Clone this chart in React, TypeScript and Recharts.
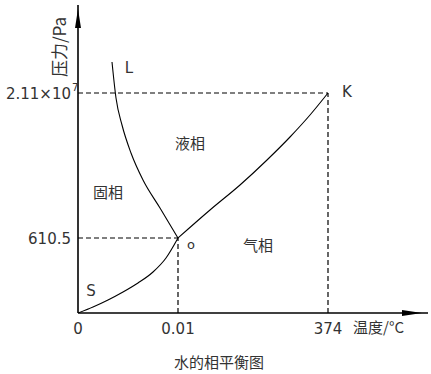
import React from 'react';
import { LineChart, Line, XAxis, YAxis, ReferenceLine, ReferenceDot, Label } from 'recharts';

// Schematic diagram units (not to scale, as in the original figure)
const xDomain = [0, 350];
const yDomain = [0, 308];

const xTickValues = [0, 100, 250];
const xTickLabels = ['0', '0.01', '374'];
const yTickValues = [75, 220];
const yTickLabels = ['610.5', '2.11×10'];
const yTickExponents = ['', '7'];

// OL : solid–liquid (fusion) curve, from L down to O
const fusionCurve = [
  { x: 34, y: 251 },
  { x: 38, y: 215 },
  { x: 44, y: 188 },
  { x: 53, y: 160 },
  { x: 65, y: 133 },
  { x: 82, y: 105 },
  { x: 100, y: 75 },
];
// OK : liquid–vapour curve, O to critical point K
const vaporCurve = [
  { x: 100, y: 75 },
  { x: 132, y: 103 },
  { x: 162, y: 128 },
  { x: 189, y: 153 },
  { x: 212, y: 176 },
  { x: 232, y: 198 },
  { x: 250, y: 220 },
];
// OS : sublimation curve, S to O
const sublimationCurve = [
  { x: 0, y: 0 },
  { x: 15, y: 6 },
  { x: 30, y: 13 },
  { x: 45, y: 21 },
  { x: 60, y: 30 },
  { x: 75, y: 41 },
  { x: 88, y: 55 },
  { x: 100, y: 75 },
];

const triplePoint = { x: 100, y: 75 };
const criticalPoint = { x: 250, y: 220 };

const pointNames = ['L', 'K', 'o', 'S'];
const pointNameAnchors = [
  { x: 51, y: 245 },
  { x: 269, y: 221 },
  { x: 113, y: 69 },
  { x: 13, y: 22 },
];
const phaseNames = ['液相', '固相', '气相'];
const phaseAnchors = [
  { x: 112, y: 171 },
  { x: 30, y: 122 },
  { x: 180, y: 69 },
];

const textColor = '#333';
const latinFont = '"DejaVu Sans", sans-serif';
const cjkFont = '"Noto Sans CJK SC", sans-serif';

const XTick = (props: any) => {
  const { x, payload } = props;
  const i = xTickValues.indexOf(payload.value);
  return (
    <text x={x} y={334} textAnchor="middle" fontSize={15} fontFamily={latinFont} fill={textColor}>
      {xTickLabels[i]}
    </text>
  );
};

const YTick = (props: any) => {
  const { y, payload } = props;
  const i = yTickValues.indexOf(payload.value);
  return (
    <g>
      <text x={71} y={y + 6} textAnchor="end" fontSize={15} fontFamily={latinFont} fill={textColor}>
        {yTickLabels[i]}
      </text>
      {yTickExponents[i] ? (
        <text x={72} y={y - 2} fontSize={10} fontFamily={latinFont} fill={textColor}>
          {yTickExponents[i]}
        </text>
      ) : null}
    </g>
  );
};

const XArrow = (props: any) => {
  const { cx, cy } = props;
  return <polygon points={`${cx - 26},${cy - 3} ${cx - 6},${cy} ${cx - 26},${cy + 3}`} fill="#000" />;
};
const YArrow = (props: any) => {
  const { cx, cy } = props;
  return <polygon points={`${cx - 3},${cy + 23} ${cx},${cy + 4} ${cx + 3},${cy + 23}`} fill="#000" />;
};

const TextMark = (text: string, fontSize: number, family: string) => (props: any) => {
  const { cx, cy } = props;
  return (
    <text x={cx} y={cy} textAnchor="middle" dominantBaseline="central" fontSize={fontSize} fontFamily={family} fill={textColor}>
      {text}
    </text>
  );
};

const dash = '5 3';

export default function App() {
  return (
    <div style={{ position: 'absolute', left: 0, top: 0, background: '#fff' }}>
      <LineChart width={431} height={374} margin={{ top: 5, right: 3, left: 0, bottom: 0 }}>
        <XAxis
          type="number"
          dataKey="x"
          domain={xDomain}
          ticks={xTickValues}
          tick={<XTick />}
          tickLine={false}
          axisLine={{ stroke: '#000', strokeWidth: 1.6 }}
          height={61}
          allowDataOverflow
        >
          <Label
            content={() => (
              <g>
                <text x={353} y={333} fontSize={15} fontFamily={cjkFont} fill={textColor}>
                  温度/°C
                </text>
                <text x={219} y={368} textAnchor="middle" fontSize={15} fontFamily={cjkFont} fill={textColor}>
                  水的相平衡图
                </text>
              </g>
            )}
          />
        </XAxis>
        <YAxis
          type="number"
          dataKey="y"
          domain={yDomain}
          ticks={yTickValues}
          tick={<YTick />}
          tickLine={false}
          axisLine={{ stroke: '#000', strokeWidth: 1.6 }}
          width={78}
          allowDataOverflow
        >
          <Label
            content={() => (
              <text
                x={58}
                y={47}
                transform="rotate(-90, 58, 47)"
                textAnchor="middle"
                dominantBaseline="central"
                fontSize={17}
                fontFamily={cjkFont}
                fill={textColor}
              >
                压力/Pa
              </text>
            )}
          />
        </YAxis>

        <ReferenceLine segment={[{ x: 0, y: triplePoint.y }, triplePoint]} stroke="#000" strokeWidth={1.2} strokeDasharray={dash} ifOverflow="visible" />
        <ReferenceLine segment={[{ x: triplePoint.x, y: 0 }, triplePoint]} stroke="#000" strokeWidth={1.2} strokeDasharray={dash} ifOverflow="visible" />
        <ReferenceLine segment={[{ x: 0, y: criticalPoint.y }, criticalPoint]} stroke="#000" strokeWidth={1.2} strokeDasharray={dash} ifOverflow="visible" />
        <ReferenceLine segment={[{ x: criticalPoint.x, y: 0 }, criticalPoint]} stroke="#000" strokeWidth={1.2} strokeDasharray={dash} ifOverflow="visible" />

        <Line data={fusionCurve} dataKey="y" type="monotone" stroke="#000" strokeWidth={1.1} dot={false} activeDot={false} isAnimationActive={false} />
        <Line data={vaporCurve} dataKey="y" type="monotone" stroke="#000" strokeWidth={1.1} dot={false} activeDot={false} isAnimationActive={false} />
        <Line data={sublimationCurve} dataKey="y" type="monotone" stroke="#000" strokeWidth={1.1} dot={false} activeDot={false} isAnimationActive={false} />

        <ReferenceDot x={xDomain[1]} y={0} r={0} ifOverflow="visible" shape={XArrow} />
        <ReferenceDot x={0} y={yDomain[1]} r={0} ifOverflow="visible" shape={YArrow} />

        {pointNames.map((n, i) => (
          <ReferenceDot
            key={n}
            x={pointNameAnchors[i].x}
            y={pointNameAnchors[i].y}
            r={0}
            ifOverflow="visible"
            shape={TextMark(n, n === 'o' ? 13 : 15, latinFont)}
          />
        ))}
        {phaseNames.map((n, i) => (
          <ReferenceDot
            key={n}
            x={phaseAnchors[i].x}
            y={phaseAnchors[i].y}
            r={0}
            ifOverflow="visible"
            shape={TextMark(n, 15, cjkFont)}
          />
        ))}
      </LineChart>
    </div>
  );
}
